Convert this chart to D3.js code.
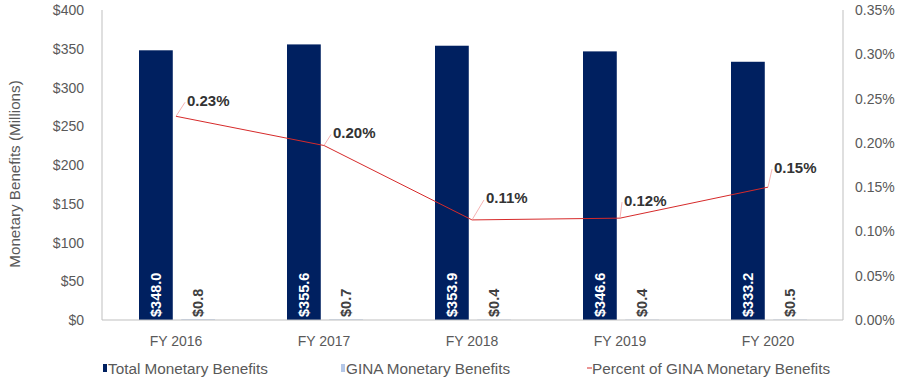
<!DOCTYPE html>
<html>
<head>
<meta charset="utf-8">
<script src="https://cdn.jsdelivr.net/npm/d3@7"></script>
<style>
  body { margin: 0; background: #fff; }
  svg text { font-family: "Liberation Sans", Arial, sans-serif; }
</style>
</head>
<body>
<script>
// data
var years = ["FY 2016", "FY 2017", "FY 2018", "FY 2019", "FY 2020"];
var totalBenefits = [348.0, 355.6, 353.9, 346.6, 333.2];
var ginaBenefits = [0.8, 0.7, 0.4, 0.4, 0.5];
var ginaPercent = [0.230, 0.197, 0.113, 0.115, 0.150];
var pctLabels = ["0.23%", "0.20%", "0.11%", "0.12%", "0.15%"];
var leftTicks = [0, 50, 100, 150, 200, 250, 300, 350, 400];
var rightTicks = [0, 0.05, 0.10, 0.15, 0.20, 0.25, 0.30, 0.35];
// label offsets for percent labels (layout only)
var pctOffsets = [[11, -16], [9, -13], [14, -22], [4, -18], [6, -20]];

var width = 900, height = 388;
var margin = {top: 10, left: 102, right: 843, bottom: 320};

var svg = d3.select("body").append("svg")
    .attr("width", width)
    .attr("height", height);

var x0 = d3.scaleBand()
    .domain(years)
    .range([margin.left, margin.right - 1]);

var x1 = d3.scaleBand()
    .domain(["total", "gina"])
    .range([-37, 39])
    .paddingInner(0.2);

var y = d3.scaleLinear().domain([0, 400]).range([margin.bottom, margin.top]);
var y2 = d3.scaleLinear().domain([0, 0.35]).range([margin.bottom, margin.top]);

function cx(d) { return x0(d) + x0.bandwidth() / 2; }

// axes lines
svg.append("line")
    .attr("x1", margin.left).attr("x2", margin.left)
    .attr("y1", margin.top).attr("y2", margin.bottom)
    .attr("stroke", "#bfbfbf");
svg.append("line")
    .attr("x1", margin.right).attr("x2", margin.right)
    .attr("y1", margin.top).attr("y2", margin.bottom)
    .attr("stroke", "#bfbfbf");

// left ticks
svg.append("g").selectAll("text")
    .data(leftTicks)
    .enter().append("text")
      .attr("x", 84)
      .attr("y", function(d) { return y(d); })
      .attr("text-anchor", "end")
      .attr("dominant-baseline", "central")
      .attr("font-size", 14)
      .attr("fill", "#595959")
      .text(function(d) { return "$" + d; });

// right ticks
svg.append("g").selectAll("text")
    .data(rightTicks)
    .enter().append("text")
      .attr("x", 855)
      .attr("y", function(d) { return y2(d); })
      .attr("dominant-baseline", "central")
      .attr("font-size", 14)
      .attr("fill", "#595959")
      .text(function(d) { return d.toFixed(2) + "%"; });

// y title
svg.append("text")
    .attr("transform", "translate(14,174) rotate(-90)")
    .attr("text-anchor", "middle")
    .attr("dominant-baseline", "central")
    .attr("font-size", 15.2)
    .attr("fill", "#595959")
    .text("Monetary Benefits (Millions)");

// x labels
svg.append("g").selectAll("text")
    .data(years)
    .enter().append("text")
      .attr("x", function(d) { return cx(d); })
      .attr("y", 341)
      .attr("text-anchor", "middle")
      .attr("dominant-baseline", "central")
      .attr("font-size", 14)
      .attr("fill", "#595959")
      .text(function(d) { return d; });

// bars
svg.append("g").selectAll("rect")
    .data(years)
    .enter().append("rect")
      .attr("x", function(d) { return cx(d) + x1("total"); })
      .attr("y", function(d, i) { return y(totalBenefits[i]); })
      .attr("width", x1.bandwidth())
      .attr("height", function(d, i) { return y(0) - y(totalBenefits[i]); })
      .attr("fill", "#002060");

svg.append("g").selectAll("rect")
    .data(years)
    .enter().append("rect")
      .attr("x", function(d) { return cx(d) + x1("gina"); })
      .attr("y", function(d, i) { return y(ginaBenefits[i]); })
      .attr("width", x1.bandwidth())
      .attr("height", function(d, i) { return y(0) - y(ginaBenefits[i]); })
      .attr("fill", "#b4c7e7");

// bottom axis line
svg.append("line")
    .attr("x1", margin.left).attr("x2", margin.right)
    .attr("y1", margin.bottom).attr("y2", margin.bottom)
    .attr("stroke", "#bfbfbf");

// bar labels
svg.append("g").selectAll("text")
    .data(years)
    .enter().append("text")
      .attr("transform", function(d) {
        return "translate(" + (cx(d) + x1("total") + x1.bandwidth() / 2) + ",317) rotate(-90)";
      })
      .attr("dominant-baseline", "central")
      .attr("font-size", 14.5)
      .attr("font-weight", "bold")
      .attr("fill", "#ffffff")
      .text(function(d, i) { return "$" + totalBenefits[i].toFixed(1); });

svg.append("g").selectAll("text")
    .data(years)
    .enter().append("text")
      .attr("transform", function(d) {
        return "translate(" + (cx(d) + x1("gina") + x1.bandwidth() / 2) + ",317) rotate(-90)";
      })
      .attr("dominant-baseline", "central")
      .attr("font-size", 14.5)
      .attr("font-weight", "bold")
      .attr("fill", "#404040")
      .text(function(d, i) { return "$" + ginaBenefits[i].toFixed(1); });

// percent line
var line = d3.line()
    .x(function(d, i) { return cx(years[i]); })
    .y(function(d) { return y2(d); });

svg.append("path")
    .datum(ginaPercent)
    .attr("d", line)
    .attr("fill", "none")
    .attr("stroke", "#d62a2a")
    .attr("stroke-width", 1);

// leader lines + percent labels
svg.append("g").selectAll("line")
    .data(ginaPercent)
    .enter().append("line")
      .attr("x1", function(d, i) { return cx(years[i]); })
      .attr("y1", function(d) { return y2(d); })
      .attr("x2", function(d, i) { return cx(years[i]) + pctOffsets[i][0] - 2; })
      .attr("y2", function(d, i) { return y2(d) + pctOffsets[i][1] + 2; })
      .attr("stroke", "#f2a0a0")
      .attr("stroke-width", 0.8);

svg.append("g").selectAll("text")
    .data(ginaPercent)
    .enter().append("text")
      .attr("x", function(d, i) { return cx(years[i]) + pctOffsets[i][0]; })
      .attr("y", function(d, i) { return y2(d) + pctOffsets[i][1]; })
      .attr("dominant-baseline", "central")
      .attr("font-size", 15)
      .attr("font-weight", "bold")
      .attr("fill", "#333333")
      .text(function(d, i) { return pctLabels[i]; });

// legend
var legend = svg.append("g");
legend.append("rect").attr("x", 103).attr("y", 364).attr("width", 4).attr("height", 8).attr("fill", "#002060");
legend.append("text").attr("x", 108).attr("y", 368).attr("dominant-baseline", "central")
    .attr("font-size", 15.3).attr("fill", "#595959").text("Total Monetary Benefits");
legend.append("rect").attr("x", 341).attr("y", 364).attr("width", 4).attr("height", 8).attr("fill", "#b4c7e7");
legend.append("text").attr("x", 346).attr("y", 368).attr("dominant-baseline", "central")
    .attr("font-size", 15.3).attr("fill", "#595959").text("GINA Monetary Benefits");
legend.append("line").attr("x1", 587).attr("x2", 592).attr("y1", 368).attr("y2", 368).attr("stroke", "#d62a2a");
legend.append("text").attr("x", 592).attr("y", 368).attr("dominant-baseline", "central")
    .attr("font-size", 15.3).attr("fill", "#595959").text("Percent of GINA Monetary Benefits");
</script>
</body>
</html>
